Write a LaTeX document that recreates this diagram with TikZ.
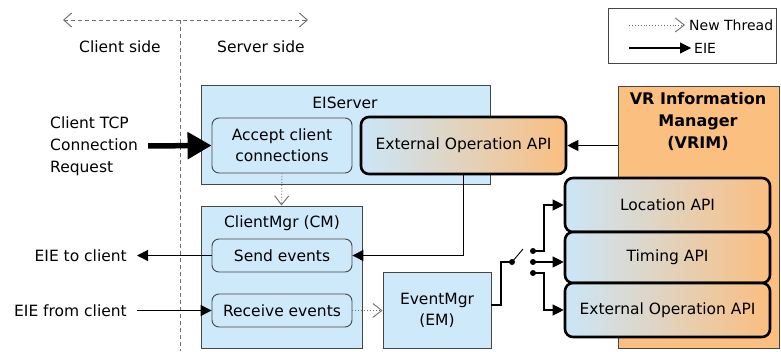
\documentclass[tikz,border=0pt]{standalone}
\usepackage{fontspec}
\setmainfont{DejaVu Sans}
\usetikzlibrary{arrows.meta}
\definecolor{boxblue}{RGB}{206,233,250}
\definecolor{boxorange}{RGB}{251,192,128}
\definecolor{gradblue}{RGB}{203,230,248}
\definecolor{gradmid}{RGB}{226,222,216}
\definecolor{gradorange}{RGB}{250,190,128}
\definecolor{edgegray}{RGB}{70,70,70}
\definecolor{dotgray}{RGB}{110,110,110}
\tikzset{
  txt/.style={font=\fontsize{15.5}{22}\selectfont, inner sep=0pt},
  smalltxt/.style={font=\fontsize{14}{16}\selectfont, inner sep=0pt},
  bluebox/.style={draw=edgegray, line width=0.9pt, fill=boxblue, font=\fontsize{15.5}{21}\selectfont, align=center, inner sep=0pt},
  roundbox/.style={bluebox, rounded corners=7pt},
  apibox/.style={draw=black, line width=2.6pt, rounded corners=8pt, left color=gradblue, middle color=gradmid, right color=gradorange, shading angle=90, font=\fontsize{15.5}{21}\selectfont, align=center, inner sep=0pt},
  eie/.style={draw=black, line width=1.1pt, -{Triangle[length=11pt,width=11pt]}},
  newthread/.style={draw=dotgray, line width=0.9pt, dotted, -{Straight Barb[length=9pt,width=14pt,line width=0.9pt]}},
  sidearrow/.style={draw=dotgray, line width=0.9pt, dash pattern=on 4pt off 3pt},
  contact/.style={circle, fill=black, inner sep=0pt, minimum size=6pt},
}
\begin{document}
\begin{tikzpicture}[x=1pt, y=-1pt]
\useasboundingbox (0,0) rectangle (781,351);
\fill[white] (0,0) rectangle (781,351);

% client / server side markers
\coordinate (sl) at (63,20);
\coordinate (sr) at (308,20);
\coordinate (vtop) at (180,20);
\coordinate (vbot) at (180,351);
\draw[sidearrow, {Straight Barb[length=8pt,width=14pt,line width=0.9pt]}-{Straight Barb[length=8pt,width=14pt,line width=0.9pt]}] (sl) -- (sr);
\draw[sidearrow] (vtop) -- (vbot);
\node[txt] (clientside) at (120,47) {Client side};
\node[txt] (serverside) at (261,47) {Server side};

% legend
\node[draw=edgegray, line width=0.9pt, minimum width=168pt, minimum height=55pt, inner sep=0pt] (legend) at (692,35.5) {};
\coordinate (lg1a) at (629,25);
\coordinate (lg1b) at (685,25);
\coordinate (lg2a) at (629,48);
\coordinate (lg2b) at (691,48);
\draw[newthread] (lg1a) -- (lg1b);
\draw[eie] (lg2a) -- (lg2b);
\node[smalltxt, anchor=west] (lgnt) at (689,25) {New Thread};
\node[smalltxt, anchor=west] (lgeie) at (694,48) {EIE};

% VRIM
\node[draw=edgegray, line width=0.9pt, fill=boxorange, minimum width=161pt, minimum height=262pt, inner sep=0pt] (vrim) at (698.5,217) {};
\node[font=\bfseries\fontsize{16}{22}\selectfont, align=center, inner sep=0pt] (vrimlbl) at (698,121) {VR Information\\Manager\\(VRIM)};

% EIServer
\node[bluebox, minimum width=289pt, minimum height=99pt] (eiserver) at (345.5,134.5) {};
\node[txt] (eiserverlbl) at (345,103) {EIServer};
\node[roundbox, minimum width=140pt, minimum height=55pt] (accept) at (282,145.5) {Accept client\\connections};
\node[apibox, minimum width=205pt, minimum height=57pt] (extop1) at (463.5,145.5) {External Operation API};

% ClientMgr
\node[bluebox, minimum width=161pt, minimum height=142pt] (clientmgr) at (281.5,277) {};
\node[txt] (clientmgrlbl) at (282,223) {ClientMgr (CM)};
\node[roundbox, minimum width=140pt, minimum height=33pt] (send) at (282,255.5) {Send events};
\node[roundbox, minimum width=140pt, minimum height=33pt] (recv) at (282,310.5) {Receive events};

% EventMgr
\node[bluebox, minimum width=108pt, minimum height=76pt] (eventmgr) at (437,310) {EventMgr\\(EM)};

% API boxes
\node[apibox, minimum width=205pt, minimum height=54pt] (loc) at (667.5,205) {Location API};
\node[apibox, minimum width=205pt, minimum height=51pt] (timing) at (667.5,257.5) {Timing API};
\node[apibox, minimum width=205pt, minimum height=54pt] (extop2) at (667.5,310) {External Operation API};

% client side texts
\node[txt, anchor=west, align=left] (tcp) at (50,146) {Client TCP\\Connection\\Request};
\node[txt, anchor=east] (toclient) at (127,255.5) {EIE to client};
\node[txt, anchor=east] (fromclient) at (127,310.5) {EIE from client};

% connectors
\draw[line width=5.5pt, -{Triangle[length=24pt,width=26pt]}, shorten <=10pt] (tcp.east) -- (accept.west);
\draw[eie] (extop1.east -| vrim.west) -- (extop1.east);
\draw[eie] (extop1.south) |- (send.east);
\draw[eie, shorten >=10pt] (send.west) -- (toclient.east);
\draw[eie, shorten <=10pt] (fromclient.east) -- (recv.west);
\draw[newthread] (accept.south) -- (clientmgr.north);
\draw[newthread] (recv.east) -- (recv.east -| eventmgr.west);

% switch
\coordinate (emout) at (491,305);
\node[contact] (pivot) at (512,262) {};
\node[contact] (c1) at (533,251) {};
\node[contact] (c2) at (533,262) {};
\node[contact] (c3) at (533,273) {};
\coordinate (blade) at (523,249);
\draw[line width=1.1pt] (emout) -- ++(10,0) |- (pivot.center);
\draw[line width=0.9pt] (pivot.center) -- (blade);
\draw[eie] (c1.center) -- ++(11,0) |- (loc.west);
\draw[eie] (c2.center) -- (c2.center -| timing.west);
\draw[eie] (c3.center) -- ++(11,0) |- (extop2.west);
\end{tikzpicture}
\end{document}
